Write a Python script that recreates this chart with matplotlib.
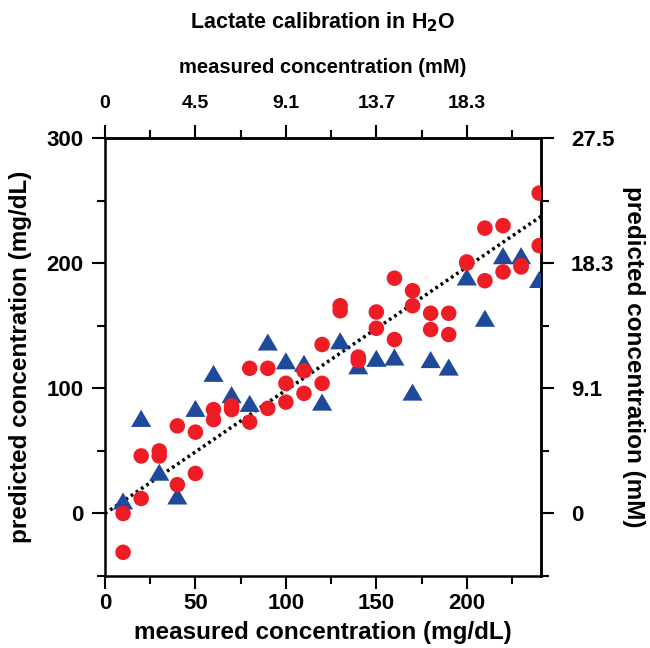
import numpy as np
import matplotlib
matplotlib.use("Agg")
import matplotlib.pyplot as plt
from matplotlib.ticker import FixedLocator

plt.rcParams['font.family'] = ['Liberation Sans', 'DejaVu Sans']
plt.rcParams['font.weight'] = 'bold'

# measured lactate levels (mg/dL)
levels = [10, 20, 30, 40, 50, 60, 70, 80, 90, 100, 110, 120,
          130, 140, 150, 160, 170, 180, 190, 200, 210, 220, 230, 240]

# red circles: two replicates per level (predicted, mg/dL)
red_a = [0, 46, 50, 70, 65, 83, 86, 116, 116, 104, 114, 135,
         166, 125, 161, 188, 178, 160, 160, 201, 228, 230, 198, 256]
red_b = [-31, 12, 46, 23, 32, 75, 83, 73, 84, 89, 96, 104,
         162, 122, 148, 139, 166, 147, 143, 200, 186, 193, 197, 214]

# blue triangles (predicted, mg/dL)
blue = [10, 76, 33, 14, 84, 112, 95, 88, 137, 122, 120, 89,
        138, 118, 124, 125, 97, 123, 117, 189, 156, 206, 206, 187]

# dotted reference line
line_x = [0, 241]
line_slope = 0.985

# secondary axis labels (mM)
top_ticks = [0, 50, 100, 150, 200]
top_labels = ["0", "4.5", "9.1", "13.7", "18.3"]
right_ticks = [0, 100, 200, 300]
right_labels = ["0", "9.1", "18.3", "27.5"]
x_minor = [25, 75, 125, 175, 225]
y_minor = [-50, 50, 150, 250]

RED = "#ee1c25"
BLUE = "#1f4a9c"

fig = plt.figure(figsize=(6.5, 6.48), dpi=100)
ax = fig.add_axes([0.1615, 0.111, 0.6708, 0.676])

ax.plot(line_x, [line_slope * v for v in line_x], color="black",
        linestyle=(0, (0.8, 1.0)), lw=2.5, zorder=1)

tri = [(0, 0.85), (-1, -0.85), (1, -0.85)]
ax.scatter(levels, blue, s=210, marker=tri, color=BLUE, edgecolors="none", zorder=3)
ax.scatter(levels, red_a, s=125, color=RED, edgecolors="none", zorder=4)
ax.scatter(levels, red_b, s=125, color=RED, edgecolors="none", zorder=4)

ax.set_xlim(0, 241)
ax.set_ylim(-50, 300)

ax.xaxis.set_major_locator(FixedLocator([0, 50, 100, 150, 200]))
ax.xaxis.set_minor_locator(FixedLocator(x_minor))
ax.yaxis.set_major_locator(FixedLocator([0, 100, 200, 300]))
ax.yaxis.set_minor_locator(FixedLocator(y_minor))

for s in ax.spines.values():
    s.set_linewidth(1.8)

ax.tick_params(which="major", direction="out", length=9.5, width=1.5, labelsize=16, pad=3)
ax.tick_params(which="minor", direction="out", length=6, width=1.5)
ax.tick_params(axis="y", pad=6)

ax.set_xlabel("measured concentration (mg/dL)", fontsize=17.5, fontweight="bold", labelpad=5)
ax.set_ylabel("predicted concentration (mg/dL)", fontsize=17.5, fontweight="bold", labelpad=10)

top = ax.secondary_xaxis("top")
top.xaxis.set_major_locator(FixedLocator(top_ticks))
top.set_xticklabels(top_labels)
top.xaxis.set_minor_locator(FixedLocator(x_minor))
top.tick_params(which="major", direction="out", length=9.5, width=1.5, labelsize=14, pad=9)
top.tick_params(which="minor", direction="out", length=6, width=1.5)
top.spines["top"].set_linewidth(1.8)
top.set_xlabel("measured concentration (mM)", fontsize=14.5, fontweight="bold", labelpad=16)

right = ax.secondary_yaxis("right")
right.yaxis.set_major_locator(FixedLocator(right_ticks))
right.set_yticklabels(right_labels)
right.yaxis.set_minor_locator(FixedLocator(y_minor))
right.tick_params(which="major", direction="out", length=9.5, width=1.5, labelsize=16, pad=12)
right.tick_params(which="minor", direction="out", length=6, width=1.5)
right.spines["right"].set_linewidth(1.8)
right.set_ylabel("predicted concentration (mM)", fontsize=17.5, fontweight="bold",
                 rotation=270, labelpad=22)

fig.text(0.497, 0.966, "Lactate calibration in H$_\\mathbf{2}$O", fontsize=15.5,
         fontweight="bold", ha="center", va="center")

plt.savefig("out.png", dpi=100)
plt.close()
